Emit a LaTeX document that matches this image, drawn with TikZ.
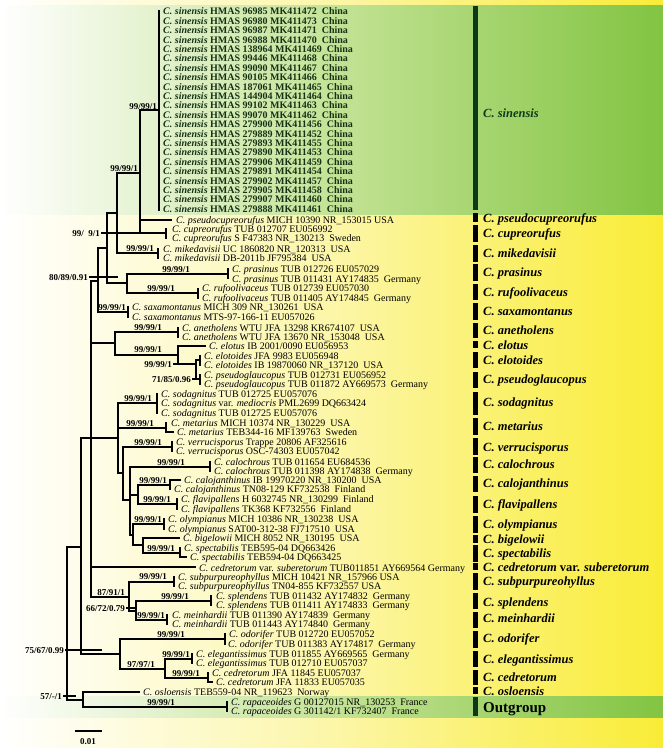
\documentclass[tikz,border=0pt]{standalone}
\usepackage{fontspec}
\setmainfont{Liberation Serif}
\usetikzlibrary{positioning}

\definecolor{ybright}{RGB}{249,236,55}
\definecolor{ymid}{RGB}{252,246,168}
\definecolor{gbright}{RGB}{130,196,66}
\definecolor{gmid}{RGB}{196,227,150}
\definecolor{gdark}{RGB}{12,58,24}
\definecolor{sintext}{RGB}{22,50,22}

\tikzset{
  branch/.style={line width=1.4pt},
  leaf/.style={anchor=west, inner sep=0pt, text height=6.5pt, text depth=0pt,
    font=\fontsize{10}{10}\selectfont},
  sinleaf/.style={leaf, text=sintext, font=\fontsize{10}{10}\selectfont\bfseries},
  bsup/.style={anchor=east, inner sep=0pt, text height=6pt, text depth=0pt,
    font=\fontsize{9}{9}\selectfont\bfseries},
  clade/.style={anchor=west, inner sep=0pt, text height=8.5pt, text depth=0pt,
    font=\fontsize{12.5}{12.5}\selectfont\bfseries\itshape},
}

\begin{document}
\begin{tikzpicture}[x=1pt, y=-1pt]
  \useasboundingbox (0,0) rectangle (663,755);

  % background bands
  \shade[left color=white, right color=ybright, middle color=ymid] (0,0) rectangle (663,747);
  \shade[left color=white, right color=gbright, middle color=gmid] (0,5) rectangle (663,214);
  \shade[left color=white, right color=gbright, middle color=gmid] (0,696) rectangle (663,717);

  % internal nodes of the tree
  \coordinate (R) at (67,622);
  \coordinate (N81) at (81,547);
  \coordinate (N91) at (91,438);
  \coordinate (D) at (98,281);
  \coordinate (C) at (107,248);
  \coordinate (B) at (117,213);
  \coordinate (A) at (140,173);
  \coordinate (SIN) at (159,110);
  \coordinate (PSC) at (172,220);
  \coordinate (CUP) at (166,233);
  \coordinate (MIK) at (158,253);
  \coordinate (PR) at (127,283);
  \coordinate (PRA) at (228,274);
  \coordinate (RUF) at (198,293);
  \coordinate (SAX) at (128,312);
  \coordinate (AN) at (115,343);
  \coordinate (ANE) at (178,332);
  \coordinate (EL) at (178,355);
  \coordinate (ELT) at (206,346);
  \coordinate (EL2) at (196,364);
  \coordinate (ELO) at (200,360);
  \coordinate (PSG) at (200,379);
  \coordinate (N118) at (118,438);
  \coordinate (SOD) at (157,403);
  \coordinate (MET) at (166,428);
  \coordinate (N123) at (123,473);
  \coordinate (VER) at (172,447);
  \coordinate (N130) at (130,500);
  \coordinate (CAL) at (210,467);
  \coordinate (N138) at (138,495);
  \coordinate (CJ) at (170,485);
  \coordinate (FL) at (177,504);
  \coordinate (N133) at (133,535);
  \coordinate (OLY) at (164,524);
  \coordinate (N143) at (143,545);
  \coordinate (BIG) at (180,538);
  \coordinate (SPE) at (180,553);
  \coordinate (CSV) at (196,567);
  \coordinate (N129) at (129,597);
  \coordinate (SUB) at (174,582);
  \coordinate (N136) at (136,611);
  \coordinate (SPL) at (211,601);
  \coordinate (MEI) at (167,620);
  \coordinate (N120) at (120,654);
  \coordinate (ODO) at (225,639);
  \coordinate (N165) at (165,669);
  \coordinate (ELE) at (192,659);
  \coordinate (CED) at (208,678);
  \coordinate (OUT) at (83,700);
  \coordinate (OSL) at (140,692);
  \coordinate (RAP) at (227,707);

  % branches
  \draw[branch] (R) |- (N81) (R) |- (OUT);
  \draw[branch] (N81) |- (N91) (N81) |- (N120);
  \draw[branch] (N91) |- (D) (N91) |- (AN) (N91) -- (N118) (N91) |- (CSV) (N91) |- (N129);
  \draw[branch] (D) |- (C) (D) |- (SAX);
  \draw[branch] (C) |- (B) (C) |- (PR);
  \draw[branch] (B) |- (A) (B) |- (MIK);
  \draw[branch] (A) |- (SIN) (A) |- (PSC) (A) |- (CUP);
  \draw[branch] (PR) |- (PRA) (PR) |- (RUF);
  \draw[branch] (AN) |- (ANE) (AN) |- (EL);
  \draw[branch] (EL) |- (ELT) (EL) |- (EL2);
  \draw[branch] (EL2) |- (ELO) (EL2) |- (PSG);
  \draw[branch] (N118) |- (SOD) (N118) |- (MET) (N118) |- (N123);
  \draw[branch] (N123) |- (VER) (N123) |- (N130);
  \draw[branch] (N130) |- (CAL) (N130) |- (N138) (N130) |- (N133);
  \draw[branch] (N138) |- (CJ) (N138) |- (FL);
  \draw[branch] (N133) |- (OLY) (N133) |- (N143);
  \draw[branch] (N143) |- (BIG) (N143) |- (SPE);
  \draw[branch] (N129) |- (SUB) (N129) |- (N136);
  \draw[branch] (N136) |- (SPL) (N136) |- (MEI);
  \draw[branch] (N120) |- (ODO) (N120) |- (N165);
  \draw[branch] (N165) |- (ELE) (N165) |- (CED);
  \draw[branch] (OUT) |- (OSL) (OUT) |- (RAP);

  % tip bars of the clades
  \draw[branch] (159,10) -- (159,211);
  \draw[branch] (166,228) -- (166,239);
  \draw[branch] (158,248) -- (158,259);
  \draw[branch] (228,268) -- (228,279);
  \draw[branch] (198,288) -- (198,299);
  \draw[branch] (128,306) -- (128,318);
  \draw[branch] (178,327) -- (178,338);
  \draw[branch] (200,355) -- (200,366);
  \draw[branch] (200,374) -- (200,385);
  \draw[branch] (157,393) -- (157,414);
  \draw[branch] (166,422) -- (166,432) -- (174,432);
  \draw[branch] (172,441) -- (172,452);
  \draw[branch] (210,461) -- (210,472);
  \draw[branch] (181,480) -- (170,480) -- (170,490);
  \draw[branch] (177,498) -- (177,510);
  \draw[branch] (164,518) -- (164,530);
  \draw[branch] (180,547) -- (180,557) -- (187,557);
  \draw[branch] (174,576) -- (174,587);
  \draw[branch] (211,595) -- (211,606);
  \draw[branch] (167,614) -- (167,625);
  \draw[branch] (225,633) -- (225,645);
  \draw[branch] (192,653) -- (192,664);
  \draw[branch] (208,672) -- (208,682) -- (213,682);
  \draw[branch] (227,701) -- (227,712);

  % C. sinensis samples
  \foreach \code [count=\i from 0] in {96985 MK411472, 96980 MK411473, 96987 MK411471,
      96988 MK411470, 138964 MK411469, 99446 MK411468, 99090 MK411467, 90105 MK411466,
      187061 MK411465, 144904 MK411464, 99102 MK411463, 99070 MK411462, 279900 MK411456,
      279889 MK411452, 279893 MK411455, 279890 MK411453, 279906 MK411459, 279891 MK411454,
      279902 MK411457, 279905 MK411458, 279907 MK411460, 279888 MK411461}
    \node[sinleaf] (sin\i) at (163,{11.7+9.4*\i}) {\textit{C. sinensis} HMAS \code\ \ China};

  % other samples
  \node[leaf] (pcu1) at (176,220) {\textit{C. pseudocupreorufus} MICH 10390 NR\_153015 USA};
  \node[leaf] (cup1) at (172,229) {\textit{C. cupreorufus} TUB 012707 EU056992};
  \node[leaf] (cup2) at (172,238) {\textit{C. cupreorufus} S F47383 NR\_130213\ \ Sweden};
  \node[leaf] (mik1) at (163,249) {\textit{C. mikedavisii} UC 1860820 NR\_120313\ \ USA};
  \node[leaf] (mik2) at (163,258) {\textit{C. mikedavisii} DB-2011b JF795384\ \ USA};
  \node[leaf] (pra1) at (232,269) {\textit{C. prasinus} TUB 012726 EU057029};
  \node[leaf] (pra2) at (232,279) {\textit{C. prasinus} TUB 011431 AY174835\ \ Germany};
  \node[leaf] (ruf1) at (202,288) {\textit{C. rufoolivaceus} TUB 012739 EU057030};
  \node[leaf] (ruf2) at (202,298) {\textit{C. rufoolivaceus} TUB 011405 AY174845\ \ Germany};
  \node[leaf] (sax1) at (132,307) {\textit{C. saxamontanus} MICH 309 NR\_130261\ \ USA};
  \node[leaf] (sax2) at (132,317) {\textit{C. saxamontanus} MTS-97-166-11 EU057026};
  \node[leaf] (ane1) at (182,328) {\textit{C. anetholens} WTU JFA 13298 KR674107\ \ USA};
  \node[leaf] (ane2) at (182,337) {\textit{C. anetholens} WTU JFA 13670 NR\_153048\ \ USA};
  \node[leaf] (elt1) at (209,346) {\textit{C. elotus} IB 2001/0090 EU056953};
  \node[leaf] (elo1) at (204,356) {\textit{C. elotoides} JFA 9983 EU056948};
  \node[leaf] (elo2) at (204,365) {\textit{C. elotoides} IB 19870060 NR\_137120\ \ USA};
  \node[leaf] (psg1) at (204,375) {\textit{C. pseudoglaucopus} TUB 012731 EU056952};
  \node[leaf] (psg2) at (204,384) {\textit{C. pseudoglaucopus} TUB 011872 AY669573\ \ Germany};
  \node[leaf] (sod1) at (161,394) {\textit{C. sodagnitus} TUB 012725 EU057076};
  \node[leaf] (sod2) at (161,403.5) {\textit{C. sodagnitus} var. \textit{mediocris} PML2699 DQ663424};
  \node[leaf] (sod3) at (161,413) {\textit{C. sodagnitus} TUB 012725 EU057076};
  \node[leaf] (met1) at (171,423) {\textit{C. metarius} MICH 10374 NR\_130229\ \ USA};
  \node[leaf] (met2) at (177,432) {\textit{C. metarius} TEB344-16 MF139763\ \ Sweden};
  \node[leaf] (ver1) at (176,442) {\textit{C. verrucisporus} Trappe 20806 AF325616};
  \node[leaf] (ver2) at (176,451) {\textit{C. verrucisporus} OSC-74303 EU057042};
  \node[leaf] (cal1) at (214,462) {\textit{C. calochrous} TUB 011654 EU684536};
  \node[leaf] (cal2) at (214,471) {\textit{C. calochrous} TUB 011398 AY174838\ \ Germany};
  \node[leaf] (cj1) at (184,480) {\textit{C. calojanthinus} IB 19970220 NR\_130200\ \ USA};
  \node[leaf] (cj2) at (174,489) {\textit{C. calojanthinus} TN08-129 KF732538\ \ Finland};
  \node[leaf] (fl1) at (181,499) {\textit{C. flavipallens} H 6032745 NR\_130299\ \ Finland};
  \node[leaf] (fl2) at (181,509) {\textit{C. flavipallens} TK368 KF732556\ \ Finland};
  \node[leaf] (oly1) at (168,519) {\textit{C. olympianus} MICH 10386 NR\_130238\ \ USA};
  \node[leaf] (oly2) at (168,529) {\textit{C. olympianus} SAT00-312-38 FJ717510\ \ USA};
  \node[leaf] (big1) at (183,538) {\textit{C. bigelowii} MICH 8052 NR\_130195\ \ USA};
  \node[leaf] (spe1) at (184,548) {\textit{C. spectabilis} TEB595-04 DQ663426};
  \node[leaf] (spe2) at (190,557) {\textit{C. spectabilis} TEB594-04 DQ663425};
  \node[leaf] (csv1) at (199,568) {\textit{C. cedretorum} var. \textit{suberetorum} TUB011851 AY669564 Germany};
  \node[leaf] (sub1) at (178,577) {\textit{C. subpurpureophyllus} MICH 10421 NR\_157966 USA};
  \node[leaf] (sub2) at (178,586) {\textit{C. subpurpureophyllus} TN04-855 KF732557 USA};
  \node[leaf] (spl1) at (216,596) {\textit{C. splendens} TUB 011432 AY174832\ \ Germany};
  \node[leaf] (spl2) at (216,605) {\textit{C. splendens} TUB 011411 AY174833\ \ Germany};
  \node[leaf] (mei1) at (172,615) {\textit{C. meinhardii} TUB 011390 AY174839\ \ Germany};
  \node[leaf] (mei2) at (172,624) {\textit{C. meinhardii} TUB 011443 AY174840\ \ Germany};
  \node[leaf] (odo1) at (229,634) {\textit{C. odorifer} TUB 012720 EU057052};
  \node[leaf] (odo2) at (228,644) {\textit{C. odorifer} TUB 011383 AY174817\ \ Germany};
  \node[leaf] (ele1) at (196,654) {\textit{C. elegantissimus} TUB 011855 AY669565\ \ Germany};
  \node[leaf] (ele2) at (196,663) {\textit{C. elegantissimus} TUB 012710 EU057037};
  \node[leaf] (ced1) at (212,673) {\textit{C. cedretorum} JFA 11845 EU057037};
  \node[leaf] (ced2) at (216,682) {\textit{C. cedretorum} JFA 11833 EU057035};
  \node[leaf] (osl1) at (143,692) {\textit{C. osloensis} TEB559-04 NR\_119623\ \ Norway};
  \node[leaf] (rap1) at (231,702) {\textit{C. rapaceoides} G 00127015 NR\_130253\ \ France};
  \node[leaf] (rap2) at (231,711) {\textit{C. rapaceoides} G 301142/1 KF732407\ \ France};

  % support values
  \node[bsup] (bsSin) at (157,106) {99/99/1};
  \node[bsup] (bsA) at (138,168) {99/99/1};
  \node[bsup] (bsCup) at (100,233) {99/\ \ 9/1};
  \draw[branch] (bsCup.east) ++(1,0) -- (A |- CUP);
  \node[bsup] (bsMik) at (154,248) {99/99/1};
  \node[bsup] (bsD) at (88,277) {80/89/0.91};
  \draw[branch] (bsD.east) ++(1,0) -- (118,277);
  \node[bsup] (bsPra) at (190,269) {99/99/1};
  \node[bsup] (bsRuf) at (175,288) {99/99/1};
  \node[bsup] (bsSax) at (126,307) {99/99/1};
  \node[bsup] (bsAne) at (162,327) {99/99/1};
  \node[bsup] (bsEl) at (162,349) {99/99/1};
  \node[bsup] (bsEl2) at (172,364) {99/99/1};
  \draw[branch] (bsEl2.east) ++(1,0) -- (EL |- EL2);
  \node[bsup] (bsPsg) at (191,379) {71/85/0.96};
  \draw[branch] (bsPsg.east) ++(1,0) -- (EL2 |- PSG);
  \node[bsup] (bsSod) at (152,398) {99/99/1};
  \node[bsup] (bsMet) at (154,423) {99/99/1};
  \node[bsup] (bsVer) at (162,442) {99/99/1};
  \node[bsup] (bsCal) at (185,462) {99/99/1};
  \node[bsup] (bsCj) at (167,480) {99/99/1};
  \node[bsup] (bsFl) at (171,499) {99/99/1};
  \node[bsup] (bsOly) at (162,519) {99/99/1};
  \node[bsup] (bsSpe) at (175,548) {99/99/1};
  \node[bsup] (bsSub) at (167,576) {99/99/1};
  \node[bsup] (bsN129) at (125,592) {87/91/1};
  \node[bsup] (bsSpl) at (189,596) {99/99/1};
  \node[bsup] (bsN136) at (125,608) {66/72/0.79};
  \draw[branch] (bsN136.east) ++(1,0) -- (N136 |- bsN136);
  \node[bsup] (bsMei) at (165,615) {99/99/1};
  \node[bsup] (bsOdo) at (185,634) {99/99/1};
  \node[bsup] (bsEle) at (190,654) {99/99/1};
  \node[bsup] (bsN165) at (155,664) {97/97/1};
  \node[bsup] (bsCed) at (200,673) {99/99/1};
  \node[bsup] (bsN81) at (64,650) {75/67/0.99};
  \draw[branch] (bsN81.east) ++(1,0) -- (102,650);
  \node[bsup] (bsR) at (62,696) {57/-/1};
  \draw[branch] (bsR.east) ++(1,0) -- (76,696);
  \node[bsup] (bsRap) at (175,702) {99/99/1};

  % scale bar
  \draw[line width=2pt] (75,731) coordinate (sc1) -- (102,731) coordinate (sc2);
  \node[bsup, anchor=center] (scale) at (88,741) {0.01};

  % clade bars and names
  \fill[gdark] (473,6) rectangle (478,210);
  \node[clade, text=gdark] (clSin) at (483,113) {C. sinensis};
  \foreach \ya/\yb/\yl/\nm [count=\i] in {
      213/222/218/C. pseudocupreorufus, 225/242/233/C. cupreorufus,
      245/262/253/C. mikedavisii, 264/281/272/C. prasinus,
      284/300/292/C. rufoolivaceus, 303/320/311/C. saxamontanus,
      323/338/330/C. anetholens, 341/348/345/C. elotus,
      352/368/360/C. elotoides, 372/388/379/C. pseudoglaucopus,
      392/415/402/C. sodagnitus, 418/435/426/C. metarius,
      438/455/447/C. verrucisporus, 457/473/464/C. calochrous,
      476/492/483/C. calojanthinus, 496/513/504/C. flavipallens,
      516/533/524/C. olympianus, 535/543/539/C. bigelowii,
      545/562/553/C. spectabilis, 563/570/567/{C. cedretorum \textup{var.} suberetorum},
      573/590/581/C. subpurpureohyllus, 593/609/602/C. splendens,
      612/628/618/C. meinhardii, 631/648/638/C. odorifer,
      651/667/659/C. elegantissimus, 670/685/677/C. cedretorum,
      687/694/691/C. osloensis}
  {
    \fill (473,\ya) rectangle (478,\yb);
    \node[clade] (cl\i) at (483,\yl) {\nm};
  }
  \fill[gdark] (473,697) rectangle (478,716);
  \node[anchor=west, inner sep=0pt, text height=10pt, text depth=0pt,
    font=\fontsize{15}{15}\selectfont\bfseries] (clOut) at (483,707) {Outgroup};
\end{tikzpicture}
\end{document}
